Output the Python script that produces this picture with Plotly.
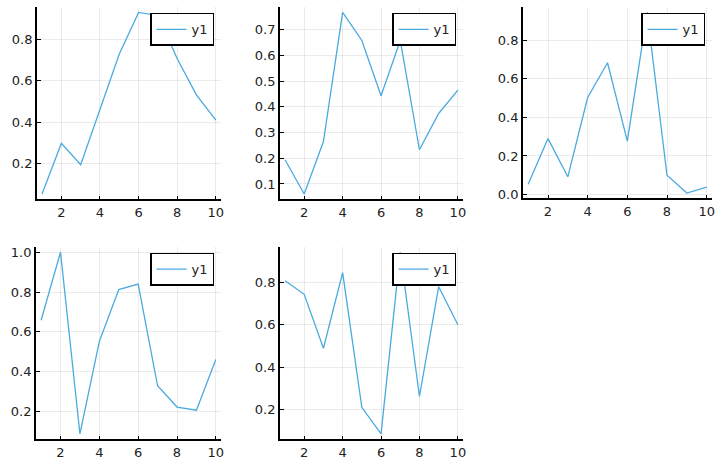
import numpy as np
import plotly.graph_objects as go

# data
x = [1, 2, 3, 4, 5, 6, 7, 8, 9, 10]
y_a = [0.052, 0.298, 0.194, 0.46, 0.73, 0.932, 0.917, 0.707, 0.531, 0.41]
y_b = [0.194, 0.061, 0.265, 0.767, 0.658, 0.443, 0.658, 0.233, 0.374, 0.465]
y_c = [0.054, 0.29, 0.092, 0.503, 0.683, 0.277, 0.944, 0.1, 0.008, 0.039]
y_d = [0.658, 1.0, 0.086, 0.551, 0.812, 0.84, 0.328, 0.221, 0.205, 0.46]
y_e = [0.808, 0.744, 0.49, 0.846, 0.212, 0.087, 0.942, 0.263, 0.78, 0.601]
series = [y_a, y_b, y_c, y_d, y_e]
series_name = "y1"
x_ticks = [2, 4, 6, 8, 10]
y_ticks = [
    [0.2, 0.4, 0.6, 0.8],
    [0.1, 0.2, 0.3, 0.4, 0.5, 0.6, 0.7],
    [0.0, 0.2, 0.4, 0.6, 0.8],
    [0.2, 0.4, 0.6, 0.8, 1.0],
    [0.2, 0.4, 0.6, 0.8],
]

W, H = 720, 468
# plot areas in pixels: left, right, top, bottom
boxes = [
    (37, 222, 5, 200),
    (281, 465, 5, 200),
    (525, 715, 5, 199),
    (36, 222, 248, 443),
    (281, 465, 248, 443),
]

line_col = "#4aaae0"
font = dict(family="DejaVu Sans", size=13, color="#222222")


def widen(lo, hi, f=0.03):
    d = (hi - lo) * f
    return [lo - d, hi + d]


fig = go.Figure()
for i, (ys, (l, r, t, b)) in enumerate(zip(series, boxes)):
    n = "" if i == 0 else str(i + 1)
    leg = "legend" + n
    fig.add_trace(go.Scatter(
        x=x, y=ys, mode="lines", name=series_name,
        line=dict(color=line_col, width=1.3),
        xaxis="x" + n, yaxis="y" + n, legend=leg,
    ))
    ax = dict(
        domain=[l / W, r / W],
        anchor="y" + n,
        range=widen(min(x), max(x)),
        tickvals=x_ticks,
        showline=True, linecolor="black", linewidth=1.5, mirror=False,
        ticks="inside", ticklen=4, tickcolor="black",
        showgrid=True, gridcolor="rgba(0,0,0,0.08)", gridwidth=1,
        zeroline=False, tickfont=font,
    )
    ay = dict(
        domain=[1 - b / H, 1 - t / H],
        anchor="x" + n,
        range=widen(min(ys), max(ys)),
        tickvals=y_ticks[i],
        tickformat=".1f",
        showline=True, linecolor="black", linewidth=1.5, mirror=False,
        ticks="inside", ticklen=4, tickcolor="black",
        showgrid=True, gridcolor="rgba(0,0,0,0.08)", gridwidth=1,
        zeroline=False, tickfont=font,
    )
    fig.update_layout({
        "xaxis" + n: ax,
        "yaxis" + n: ay,
        leg: dict(
            x=(r - 7) / W, y=1 - (t + 6) / H,
            xanchor="right", yanchor="top",
            bgcolor="white", bordercolor="black", borderwidth=1.5,
            font=font, itemwidth=30,
        ),
    })

fig.update_layout(
    width=W, height=H,
    margin=dict(l=0, r=0, t=0, b=0),
    paper_bgcolor="white", plot_bgcolor="white",
    showlegend=True,
)
fig.write_html(
    "out.html",
    config={"displayModeBar": False},
    post_script="document.body.style.margin='0';",
)
